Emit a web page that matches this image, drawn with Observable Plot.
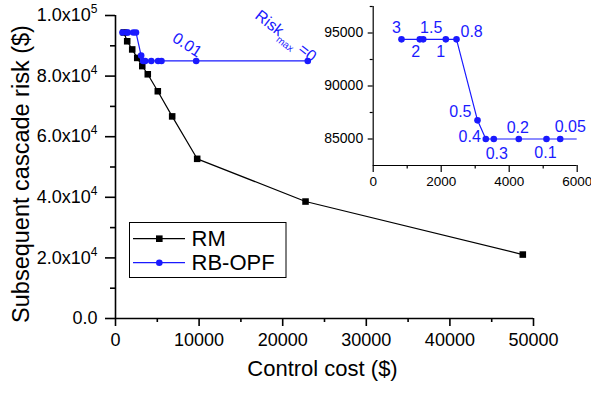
<!DOCTYPE html>
<html><head><meta charset="utf-8">
<script src="https://cdn.jsdelivr.net/npm/d3@7"></script>
<script src="https://cdn.jsdelivr.net/npm/@observablehq/plot@0.6"></script>
<style>
body{margin:0;background:#fff;}
#wrap{position:relative;width:591px;height:394px;}
#wrap svg{position:absolute;left:0;top:0;}
</style></head><body><div id="wrap"></div>
<script>
// ---- data ----
const rmCost = [1000,1400,2000,2600,3200,3860,5060,6780,9770,22730,48720];
const rmRisk = [94400,91500,88800,86000,83300,80600,75000,66700,52700,38600,21100];
const opfLabels = ["3","2","1.5","1","0.8","0.5","0.4","0.3","0.2","0.1","0.05","0.01","0"];
const opfCost = [832,1371,1471,2135,2450,3068,3312,3547,4282,5097,5500,9650,23000];
const opfRisk = [94400,94400,94400,94400,94400,86760,85000,85000,85000,85000,85000,85000,85000];
const mainXTicks = [0,10000,20000,30000,40000,50000];
const mainXMinor = [5000,15000,25000,35000,45000];
const mainYTicks = [0,20000,40000,60000,80000,100000];
const mainYTickLabels = ["0.0","2.0x10^4","4.0x10^4","6.0x10^4","8.0x10^4","1.0x10^5"];
const mainYMinor = [10000,30000,50000,70000,90000];
const insetXTicks = [0,2000,4000,6000];
const insetXMinor = [1000,3000,5000];
const insetYTicks = [85000,90000,95000];
const insetYMinor = [87500,92500,97500];
const seriesNames = ["RM","RB-OPF"];
const xTitle = "Control cost ($)";
const yTitle = "Subsequent cascade risk ($)";

// ---- tables ----
const rm = rmCost.map((c,i)=>({cost:c, risk:rmRisk[i]}));
const opf = opfCost.map((c,i)=>({cost:c, risk:opfRisk[i], label:opfLabels[i]}));

const FONT = "'Liberation Sans', Arial, Helvetica, sans-serif";
const BLUE = "#1a1aff";

const main = Plot.plot({
  width:591, height:394, marginLeft:115, marginRight:58, marginTop:15, marginBottom:76,
  style:{fontFamily:FONT, fontSize:"18px", color:"black", background:"transparent", overflow:"visible"},
  x:{domain:[0,50000], label:null},
  y:{domain:[0,100000], label:null},
  marks:[
    Plot.axisX({ticks:mainXTicks, tickSize:8, tickPadding:7, tickFormat:d=>String(d), strokeWidth:1.6, fontSize:18}),
    Plot.axisX({ticks:mainXMinor, tickSize:4, tickFormat:()=>"", strokeWidth:1.6}),
    Plot.axisY({ticks:mainYTicks, tickSize:10, tickPadding:8, tickFormat:d=>mainYTickLabels[mainYTicks.indexOf(d)], strokeWidth:1.6, fontSize:18}),
    Plot.axisY({ticks:mainYMinor, tickSize:5, tickFormat:()=>"", strokeWidth:1.6}),
    Plot.ruleX([0], {strokeWidth:1.6}),
    Plot.ruleY([0], {strokeWidth:1.6}),
    Plot.line(rm, {x:"cost", y:"risk", stroke:"black", strokeWidth:1.2}),
    Plot.dot(rm, {x:"cost", y:"risk", symbol:"square", r:3.7, fill:"black"}),
    Plot.line(opf, {x:"cost", y:"risk", stroke:BLUE, strokeWidth:1.2}),
    Plot.dot(opf, {x:"cost", y:"risk", r:3.3, fill:BLUE}),
    Plot.text(opf.filter(d=>d.label==="0.01"), {x:"cost", y:"risk", text:"label", rotate:33, dx:-9, dy:-16, fill:BLUE, fontSize:16}),
    Plot.text(opf.filter(d=>d.label==="0"), {x:"cost", y:"risk", text:()=>"RISKMAX", rotate:38, dx:-22, dy:-25, fill:BLUE, fontSize:16}),
    Plot.text([xTitle], {frameAnchor:"bottom", dx:-2, dy:57, fontSize:22, textAnchor:"middle"}),
    Plot.text([yTitle], {frameAnchor:"left", dx:-94, dy:7, rotate:-90, fontSize:23.5, textAnchor:"middle"})
  ]
});

const insetPlace = {
  "3":{dx:-5,dy:-11}, "2":{dx:-4,dy:13}, "1.5":{dx:8,dy:-11}, "1":{dx:-5,dy:13},
  "0.8":{dx:4,dy:-7,textAnchor:"start"}, "0.5":{dx:-6,dy:-8,textAnchor:"end"},
  "0.4":{dx:-5,dy:-2,textAnchor:"end"}, "0.3":{dx:3,dy:15}, "0.2":{dx:-1,dy:-11},
  "0.1":{dx:-1,dy:14}, "0.05":{dx:10,dy:-12}
};
const insetLabelMarks = opf.filter(d=>insetPlace[d.label]).map(d=>
  Plot.text([d], {x:"cost", y:"risk", text:"label", fill:BLUE, fontSize:16, ...insetPlace[d.label]}));

const inset = Plot.plot({
  width:591, height:394, marginLeft:372.7, marginRight:14.3, marginTop:6, marginBottom:229,
  style:{fontFamily:FONT, fontSize:"14px", color:"black", background:"transparent", overflow:"visible"},
  x:{domain:[0,6000], label:null},
  y:{domain:[82500,97500], label:null},
  marks:[
    Plot.axisX({ticks:insetXTicks, tickSize:7, tickPadding:4, tickFormat:d=>String(d), strokeWidth:1.2, fontSize:13.5}),
    Plot.axisX({ticks:insetXMinor, tickSize:3.5, tickFormat:()=>"", strokeWidth:1.2}),
    Plot.axisY({ticks:insetYTicks, tickSize:5, tickPadding:5, tickFormat:d=>String(d), strokeWidth:1.2, fontSize:14}),
    Plot.axisY({ticks:insetYMinor, tickSize:3, tickFormat:()=>"", strokeWidth:1.2}),
    Plot.ruleX([0], {strokeWidth:1.2}),
    Plot.ruleY([82500], {strokeWidth:1.2}),
    Plot.line(opf, {x:"cost", y:"risk", stroke:BLUE, strokeWidth:1.2, clip:true}),
    Plot.dot(opf, {x:"cost", y:"risk", r:3.3, fill:BLUE, clip:true}),
    ...insetLabelMarks
  ]
});

const wrap = document.getElementById("wrap");
wrap.appendChild(main);
wrap.appendChild(inset);

// superscripts / subscripts
d3.select(main).selectAll("text").each(function(){
  const t = this.textContent;
  if (t.includes("^")) {
    const [base, exp] = t.split("^");
    const sel = d3.select(this);
    sel.text("");
    sel.append("tspan").text(base);
    sel.append("tspan").attr("dy", -8).attr("font-size", 12).text(exp);
  } else if (t === "RISKMAX") {
    const sel = d3.select(this);
    sel.text("");
    sel.append("tspan").text("Risk");
    sel.append("tspan").attr("dy", 5).attr("font-size", 10).text("max");
    sel.append("tspan").attr("dy", -5).text(" =0");
  }
});

// legend
const lg = d3.select(main).append("g").attr("font-family", FONT).attr("text-anchor","start");
lg.append("rect").attr("x",129.5).attr("y",222.5).attr("width",156.5).attr("height",55)
  .attr("fill","white").attr("stroke","black").attr("stroke-width",1);
const legendRows = [{name:seriesNames[0], color:"black", sym:"square", y:238.7},
                    {name:seriesNames[1], color:BLUE, sym:"circle", y:262.7}];
legendRows.forEach(r=>{
  lg.append("line").attr("x1",133).attr("x2",185).attr("y1",r.y).attr("y2",r.y)
    .attr("stroke",r.color).attr("stroke-width",1.2);
  if (r.sym==="square") lg.append("rect").attr("x",159.3-3.3).attr("y",r.y-3.3).attr("width",6.6).attr("height",6.6).attr("fill",r.color);
  else lg.append("circle").attr("cx",159.3).attr("cy",r.y).attr("r",3.3).attr("fill",r.color);
  lg.append("text").attr("x",191.5).attr("y",r.y+7.5).attr("font-size",22).attr("fill","black").attr("text-anchor","start").text(r.name);
});
</script></body></html>
